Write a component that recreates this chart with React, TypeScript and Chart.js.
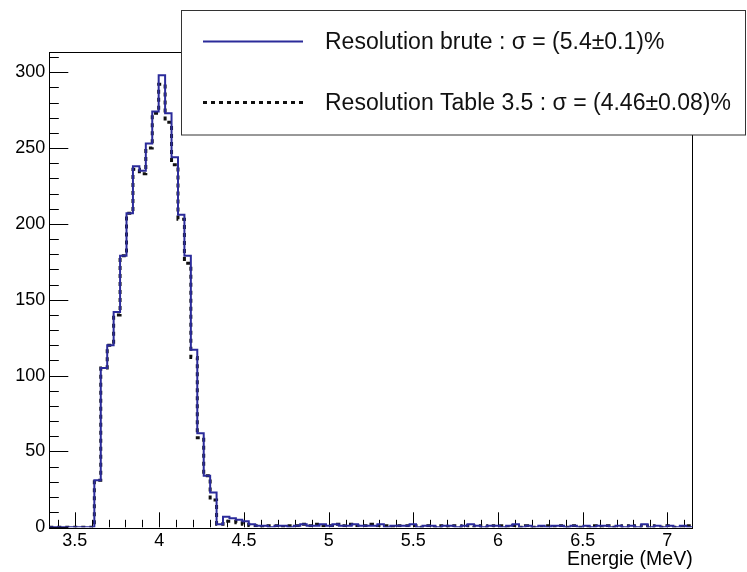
import React, { useEffect, useRef } from "react";
import { Chart, registerables } from "chart.js";

Chart.register(...registerables);

const xMin = 3.35;
const xMax = 7.15;
const binWidth = 0.038;

const brute = [
  0, 0, 0, 0, 0, 0, 0, 31, 105, 120,
  142, 179, 207, 238, 235, 253, 274, 298, 273, 244,
  206, 179, 117, 62, 34, 23, 2, 7, 6, 5,
  4, 2, 1, 1, 0, 1, 1, 0, 1, 2,
  1, 1, 2, 1, 2, 1, 1, 2, 1, 1,
  1, 2, 0, 1, 1, 1, 2, 0, 1, 1,
  0, 1, 1, 0, 1, 2, 1, 0, 1, 1,
  0, 1, 2, 0, 1, 0, 1, 0, 1, 1,
  0, 1, 0, 1, 0, 1, 1, 0, 1, 0,
  1, 0, 2, 0, 1, 0, 1, 0, 1, 0,
];

const table35 = [
  0, 0, 0, 0, 0, 0, 0, 31, 105, 120,
  140, 179, 207, 236, 233, 250, 273, 292, 267, 239,
  203, 174, 112, 59, 34, 18, 2, 4, 4, 3,
  2, 1, 1, 0, 1, 1, 0, 1, 1, 2,
  1, 2, 1, 1, 2, 1, 2, 1, 1, 1,
  2, 1, 1, 0, 1, 1, 1, 0, 1, 0,
  1, 0, 1, 1, 0, 1, 0, 1, 0, 1,
  1, 0, 1, 0, 1, 0, 0, 1, 0, 1,
  0, 1, 0, 0, 1, 0, 1, 0, 0, 1,
  0, 1, 0, 1, 0, 0, 1, 0, 0, 1,
];

const xTickValues = [3.5, 4, 4.5, 5, 5.5, 6, 6.5, 7];
const xTickLabels = ["3.5", "4", "4.5", "5", "5.5", "6", "6.5", "7"];
const yTickValues = [0, 50, 100, 150, 200, 250, 300];
const yTickLabels = ["0", "50", "100", "150", "200", "250", "300"];
const yMax = 313.5;

const labelBrute = "Resolution brute : \u03c3 = (5.4\u00b10.1)%";
const labelTable = "Resolution Table 3.5 : \u03c3 = (4.46\u00b10.08)%";
const xTitle = "Energie (MeV)";

const FONT = "'Liberation Sans', Arial, Helvetica, sans-serif";

function toSteps(vals: number[]) {
  const pts = vals.map((v, i) => ({ x: xMin + i * binWidth, y: v }));
  pts.push({ x: xMin + vals.length * binWidth, y: vals[vals.length - 1] });
  return pts;
}

const framePlugin = {
  id: "rootFrame",
  beforeDatasetsDraw(chart: any) {
    const { ctx, chartArea: a, scales } = chart;
    const xs = scales.x;
    const ys = scales.y;
    ctx.save();
    ctx.strokeStyle = "#000";
    ctx.lineWidth = 1;
    for (let k = Math.ceil(xMin * 10 - 1e-6); k <= Math.floor(xMax * 10 + 1e-6); k++) {
      const v = k / 10;
      const px = Math.round(xs.getPixelForValue(v)) + 0.5;
      const major = k % 5 === 0;
      const len = major ? 15 : 7.5;
      ctx.beginPath();
      ctx.moveTo(px, a.bottom);
      ctx.lineTo(px, a.bottom - len);
      ctx.stroke();
    }
    for (let v = 0; v <= yMax; v += 10) {
      const py = Math.round(ys.getPixelForValue(v)) + 0.5;
      const major = v % 50 === 0;
      const len = major ? 19 : 9.5;
      ctx.beginPath();
      ctx.moveTo(a.left, py);
      ctx.lineTo(a.left + len, py);
      ctx.stroke();
    }
    ctx.strokeRect(Math.round(a.left) + 0.5, Math.round(a.top) + 0.5, Math.round(a.right - a.left), Math.round(a.bottom - a.top));
    ctx.restore();
  },
  afterDraw(chart: any) {
    const { ctx, chartArea: a } = chart;
    ctx.save();
    ctx.fillStyle = "#000";
    ctx.font = `19.5px ${FONT}`;
    ctx.textAlign = "right";
    ctx.textBaseline = "alphabetic";
    ctx.fillText(xTitle, a.right, 565);

    const bx = 181.5, by = 10.5, bw = 564, bh = 124.5;
    ctx.fillStyle = "#fff";
    ctx.fillRect(bx, by, bw, bh);
    ctx.strokeStyle = "#333";
    ctx.lineWidth = 1;
    ctx.strokeRect(bx, by, bw, bh);
    const ds = chart.data.datasets;
    const rows = [41.5, 102.5];
    ds.forEach((d: any, i: number) => {
      ctx.save();
      ctx.strokeStyle = d.borderColor;
      ctx.lineWidth = d.borderWidth;
      ctx.setLineDash(d.borderDash || []);
      ctx.beginPath();
      ctx.moveTo(203, rows[i]);
      ctx.lineTo(303, rows[i]);
      ctx.stroke();
      ctx.restore();
      ctx.fillStyle = "#111";
      ctx.font = `23px ${FONT}`;
      ctx.textAlign = "left";
      ctx.textBaseline = "middle";
      ctx.fillText(d.label, 325, rows[i] + 1);
    });
    ctx.restore();
  },
};

export default function App() {
  const ref = useRef<HTMLCanvasElement | null>(null);
  useEffect(() => {
    document.body.style.margin = "0";
    const canvas = ref.current!;
    const chart = new Chart(canvas, {
      type: "line",
      data: {
        datasets: [
          {
            label: labelBrute,
            data: toSteps(brute),
            borderColor: "#2b2b9a",
            borderWidth: 2,
            pointRadius: 0,
            stepped: "before",
            fill: false,
          },
          {
            label: labelTable,
            data: toSteps(table35),
            borderColor: "#111111",
            borderWidth: 3,
            borderDash: [4, 4],
            pointRadius: 0,
            stepped: "before",
            fill: false,
          },
        ],
      },
      options: {
        animation: false,
        responsive: false,
        maintainAspectRatio: false,
        devicePixelRatio: 1,
        layout: { padding: { left: 0, right: 54.3, top: 51.7, bottom: 0 } },
        plugins: {
          legend: { display: false },
          tooltip: { enabled: false },
        },
        scales: {
          x: {
            type: "linear",
            min: xMin,
            max: xMax,
            grid: { display: false, drawTicks: false },
            border: { display: false },
            afterBuildTicks: (s: any) => {
              s.ticks = xTickValues.map((v) => ({ value: v }));
            },
            afterFit: (s: any) => {
              s.height = 44.7;
            },
            ticks: {
              autoSkip: false,
              maxRotation: 0,
              padding: 3,
              color: "#000",
              font: { family: FONT, size: 18 },
              callback: (v: any) => {
                const i = xTickValues.findIndex((t) => Math.abs(t - v) < 1e-6);
                return i >= 0 ? xTickLabels[i] : "";
              },
            },
          },
          y: {
            type: "linear",
            min: 0,
            max: yMax,
            grid: { display: false, drawTicks: false },
            border: { display: false },
            afterBuildTicks: (s: any) => {
              s.ticks = yTickValues.map((v) => ({ value: v }));
            },
            afterFit: (s: any) => {
              s.width = 49.3;
            },
            ticks: {
              autoSkip: false,
              padding: 4,
              color: "#000",
              font: { family: FONT, size: 18 },
              callback: (v: any) => {
                const i = yTickValues.findIndex((t) => Math.abs(t - v) < 1e-6);
                return i >= 0 ? yTickLabels[i] : "";
              },
            },
          },
        },
      },
      plugins: [framePlugin],
    });
    return () => chart.destroy();
  }, []);
  return (
    <div style={{ position: "absolute", left: 0, top: 0, width: 747, height: 572, background: "#fff" }}>
      <canvas ref={ref} width={747} height={572} style={{ width: 747, height: 572, display: "block" }} />
    </div>
  );
}
